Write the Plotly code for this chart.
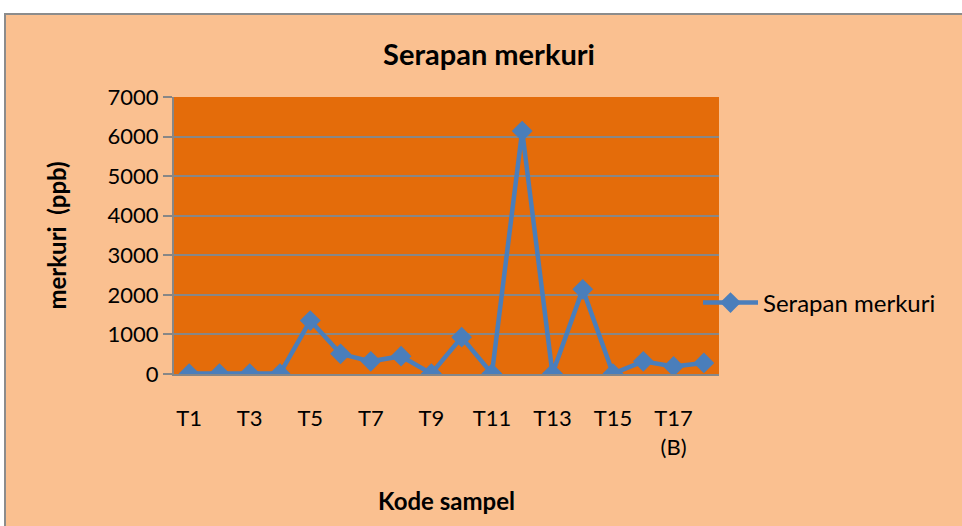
import plotly.graph_objects as go

categories = ["T1", "T2", "T3", "T4", "T5", "T6", "T7", "T8", "T9", "T10",
              "T11", "T12", "T13", "T14", "T15", "T16", "T17 (B)", "T18"]
serapan = [10, 10, 10, 10, 1350, 510, 320, 450, 10, 930,
           10, 6140, 10, 2140, 10, 320, 190, 280]
y_ticks = [0, 1000, 2000, 3000, 4000, 5000, 6000, 7000]

shown = categories[::2]
shown_text = [c.replace(" ", "<br>") for c in shown]

FONT = "Lato"
PEACH = "#FAC090"
ORANGE = "#E46C0A"
BLUE = "#4A7EBB"
GRID = "#878787"

L, R, T, B = 174, 243, 97, 152
W, H = 962, 526
pw, ph = W - L - R, H - T - B


def px(x):
    return (x - L) / pw


def py(y):
    return (H - B - y) / ph


fig = go.Figure()
fig.add_trace(go.Scatter(
    x=categories, y=serapan, mode="lines+markers", name="Serapan merkuri",
    line=dict(color=BLUE, width=4.5),
    marker=dict(symbol="diamond", size=16, color=BLUE),
))

fig.update_layout(
    width=W, height=H,
    margin=dict(l=L, r=R, t=T, b=B),
    paper_bgcolor=PEACH,
    plot_bgcolor=ORANGE,
    font=dict(family=FONT, size=22, color="#000000"),
    title=dict(text="<b>Serapan merkuri</b>", x=px(489), xanchor="center",
               xref="paper", y=1 - 55 / H, yanchor="middle",
               font=dict(family=FONT, size=29, color="#000000")),
    showlegend=True,
    legend=dict(x=px(698), xanchor="left", y=py(303), yanchor="middle",
                itemwidth=55,
                bgcolor="rgba(0,0,0,0)", font=dict(family=FONT, size=24)),
    xaxis=dict(
        type="category", categoryorder="array", categoryarray=categories,
        range=[-0.5, len(categories) - 0.5],
        tickmode="array", tickvals=shown, ticktext=shown_text,
        ticks="outside", ticklen=24, tickcolor="rgba(0,0,0,0)",
        showgrid=False, showline=True, linecolor=GRID, linewidth=2,
        tickfont=dict(family=FONT, size=22),
        title=dict(text="<b>Kode sampel</b>", standoff=34,
                   font=dict(family=FONT, size=24)),
    ),
    yaxis=dict(
        range=[0, 7000], tickmode="array", tickvals=y_ticks,
        ticks="outside", ticklen=9, tickcolor=GRID, tickwidth=2,
        showgrid=True, gridcolor=GRID, gridwidth=2,
        showline=True, linecolor=GRID, linewidth=2,
        zeroline=False,
        tickfont=dict(family=FONT, size=22),
        title=dict(text="<b>merkuri  (ppb)</b>", standoff=34,
                   font=dict(family=FONT, size=24)),
    ),
    shapes=[
        dict(type="rect", xref="paper", yref="paper",
             x0=px(-5), x1=px(W + 5), y0=py(-5), y1=py(13),
             fillcolor="#FFFFFF", line=dict(width=0), layer="below"),
        dict(type="rect", xref="paper", yref="paper",
             x0=px(-5), x1=px(4), y0=py(H + 5), y1=py(-5),
             fillcolor="#FFFFFF", line=dict(width=0), layer="below"),
        dict(type="line", xref="paper", yref="paper",
             x0=px(4), x1=px(W + 5), y0=py(14), y1=py(14),
             line=dict(color="#8C8C8C", width=2), layer="below"),
        dict(type="line", xref="paper", yref="paper",
             x0=px(5), x1=px(5), y0=py(14), y1=py(H + 5),
             line=dict(color="#8C8C8C", width=2), layer="below"),
    ],
)

fig.write_html(
    "out.html",
    config={"displayModeBar": False},
    post_script="document.body.style.margin='0';document.body.style.overflow='hidden';",
)
